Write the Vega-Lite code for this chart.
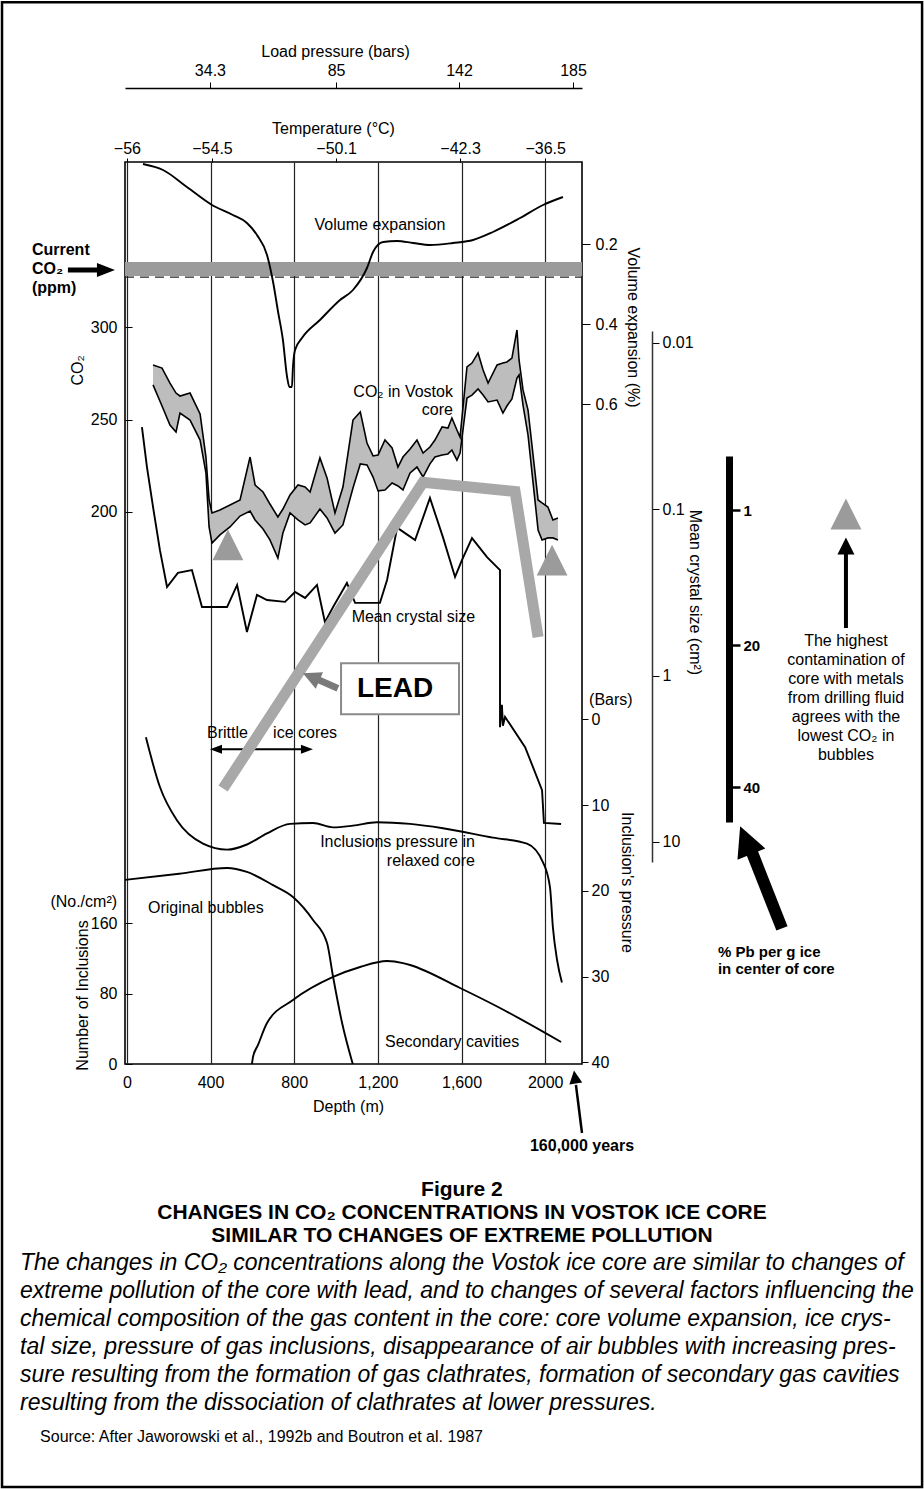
{
"$schema": "https://vega.github.io/schema/vega-lite/v6.json",
"width": 457,
"height": 902,
"autosize": {"type": "none"},
"padding": {"left": 125, "top": 162, "right": 342, "bottom": 425},
"background": "#ffffff",
"config": {
 "view": {"stroke": "#000000", "strokeWidth": 1.6},
 "font": "Liberation Sans",
 "axis": {"labelFont": "Liberation Sans", "titleFont": "Liberation Sans", "labelFontSize": 16, "titleFontSize": 16, "titleFontWeight": "normal", "labelColor": "#000000", "titleColor": "#000000", "tickColor": "#000000", "domainColor": "#000000", "grid": false, "labelFlush": false, "labelOverlap": false, "titleBaseline": "middle", "titleAlign": "center"},
 "text": {"font": "Liberation Sans", "fontSize": 16, "color": "#000000", "baseline": "middle"},
 "line": {"color": "#000000", "strokeWidth": 1.8},
 "rule": {"color": "#000000"}
},
"datasets": {
 "co2": [{"d":125,"hi":279.5,"lo":268.7},{"d":168,"hi":277.8,"lo":257.3},{"d":206,"hi":269.7,"lo":247.0},{"d":235,"hi":264.3,"lo":243.2},{"d":254,"hi":262.7,"lo":253.5},{"d":302,"hi":264.3,"lo":249.7},{"d":350,"hi":253.0,"lo":238.9},{"d":378,"hi":229.7,"lo":221.1},{"d":393,"hi":206.5,"lo":191.9},{"d":407,"hi":199.5,"lo":183.2},{"d":445,"hi":201.1,"lo":187.6},{"d":493,"hi":203.8,"lo":191.9},{"d":541,"hi":206.5,"lo":197.8},{"d":589,"hi":229.7,"lo":200.5},{"d":613,"hi":214.6,"lo":195.7},{"d":651,"hi":210.8,"lo":190.8},{"d":684,"hi":204.3,"lo":184.9},{"d":722,"hi":197.3,"lo":175.1},{"d":746,"hi":201.6,"lo":188.6},{"d":780,"hi":209.2,"lo":199.5},{"d":818,"hi":214.6,"lo":195.7},{"d":852,"hi":213.5,"lo":193.0},{"d":876,"hi":210.8,"lo":194.1},{"d":923,"hi":229.2,"lo":201.6},{"d":957,"hi":218.4,"lo":196.8},{"d":995,"hi":199.5,"lo":188.6},{"d":1033,"hi":213.5,"lo":193.0},{"d":1081,"hi":249.7,"lo":213.0},{"d":1116,"hi":254.1,"lo":226.0},{"d":1148,"hi":237.3,"lo":225.4},{"d":1177,"hi":230.3,"lo":218.9},{"d":1201,"hi":230.8,"lo":211.4},{"d":1234,"hi":238.9,"lo":211.9},{"d":1268,"hi":234.6,"lo":215.7},{"d":1296,"hi":224.3,"lo":214.1},{"d":1320,"hi":229.7,"lo":211.9},{"d":1354,"hi":234.1,"lo":221.1},{"d":1387,"hi":238.9,"lo":224.3},{"d":1416,"hi":231.9,"lo":218.9},{"d":1449,"hi":235.1,"lo":226.0},{"d":1473,"hi":238.9,"lo":229.7},{"d":1507,"hi":246.0,"lo":230.8},{"d":1535,"hi":245.4,"lo":231.4},{"d":1554,"hi":250.8,"lo":233.5},{"d":1578,"hi":244.3,"lo":228.1},{"d":1593,"hi":240.5,"lo":231.9},{"d":1626,"hi":278.4,"lo":261.6},{"d":1650,"hi":280.5,"lo":263.2},{"d":1679,"hi":286.0,"lo":266.5},{"d":1703,"hi":276.8,"lo":263.2},{"d":1727,"hi":269.7,"lo":259.5},{"d":1770,"hi":279.5,"lo":260.5},{"d":1798,"hi":280.5,"lo":253.5},{"d":1817,"hi":281.1,"lo":257.3},{"d":1841,"hi":283.2,"lo":261.1},{"d":1865,"hi":298.4,"lo":272.4},{"d":1875,"hi":282.2,"lo":274.1},{"d":1894,"hi":266.0,"lo":257.8},{"d":1918,"hi":255.1,"lo":241.6},{"d":1966,"hi":206.5,"lo":190.3},{"d":1985,"hi":204.9,"lo":184.9},{"d":2013,"hi":202.7,"lo":186.0},{"d":2037,"hi":195.7,"lo":186.0},{"d":2061,"hi":196.8,"lo":184.9}],
 "lows": [{"d":483,"co2":182.2},{"d":2033,"co2":174.0}],
 "volume": [{"d":77,"v":0.0},{"d":173,"v":0.015},{"d":287,"v":0.0575},{"d":407,"v":0.1025},{"d":507,"v":0.1275},{"d":574,"v":0.1475},{"d":622,"v":0.1775},{"d":670,"v":0.2275},{"d":699,"v":0.295},{"d":723,"v":0.37},{"d":746,"v":0.44},{"d":766,"v":0.5325},{"d":777,"v":0.5575},{"d":789,"v":0.5575},{"d":794,"v":0.5075},{"d":804,"v":0.465},{"d":837,"v":0.435},{"d":923,"v":0.39},{"d":1019,"v":0.34},{"d":1081,"v":0.315},{"d":1148,"v":0.26},{"d":1177,"v":0.22},{"d":1225,"v":0.195},{"d":1292,"v":0.1925},{"d":1368,"v":0.1975},{"d":1449,"v":0.2025},{"d":1559,"v":0.1975},{"d":1655,"v":0.19},{"d":1750,"v":0.17},{"d":1880,"v":0.135},{"d":1990,"v":0.1025},{"d":2085,"v":0.0825}],
 "crystal": [{"i":0,"d":72,"v":0.032},{"i":1,"d":96,"v":0.0557},{"i":2,"d":125,"v":0.0968},{"i":3,"d":158,"v":0.176},{"i":4,"d":192,"v":0.293},{"i":5,"d":244,"v":0.241},{"i":6,"d":311,"v":0.232},{"i":7,"d":359,"v":0.387},{"i":8,"d":479,"v":0.387},{"i":9,"d":527,"v":0.285},{"i":10,"d":574,"v":0.547},{"i":11,"d":622,"v":0.327},{"i":12,"d":670,"v":0.351},{"i":13,"d":756,"v":0.36},{"i":14,"d":804,"v":0.314},{"i":15,"d":852,"v":0.341},{"i":16,"d":909,"v":0.285},{"i":17,"d":947,"v":0.477},{"i":18,"d":986,"v":0.387},{"i":19,"d":1052,"v":0.277},{"i":20,"d":1091,"v":0.365},{"i":21,"d":1210,"v":0.365},{"i":22,"d":1244,"v":0.266},{"i":23,"d":1292,"v":0.129},{"i":24,"d":1330,"v":0.139},{"i":25,"d":1378,"v":0.153},{"i":26,"d":1449,"v":0.0855},{"i":27,"d":1511,"v":0.147},{"i":28,"d":1569,"v":0.255},{"i":29,"d":1602,"v":0.202},{"i":30,"d":1650,"v":0.149},{"i":31,"d":1722,"v":0.194},{"i":32,"d":1784,"v":0.232},{"i":33,"d":1784,"v":2.04},{"i":34,"d":1793,"v":1.5},{"i":35,"d":1798,"v":2.0},{"i":36,"d":1808,"v":1.77},{"i":37,"d":1904,"v":2.69},{"i":38,"d":1985,"v":4.88},{"i":39,"d":1994,"v":7.69},{"i":40,"d":2076,"v":7.8}],
 "pressure": [{"d":91,"p":2.1},{"d":158,"p":7.9},{"d":240,"p":11.8},{"d":364,"p":14.5},{"d":479,"p":15.2},{"d":574,"p":14.6},{"d":670,"p":13.3},{"d":780,"p":12.2},{"d":890,"p":12.1},{"d":986,"p":12.6},{"d":1081,"p":12.4},{"d":1196,"p":12.0},{"d":1354,"p":12.2},{"d":1511,"p":12.7},{"d":1750,"p":13.8},{"d":1913,"p":14.5},{"d":1990,"p":16.7},{"d":2023,"p":19.6},{"d":2037,"p":24.3},{"d":2057,"p":28.1},{"d":2080,"p":30.7}],
 "bubbles": [{"d":-9,"n":209},{"d":250,"n":216},{"d":479,"n":222.5},{"d":574,"n":218},{"d":699,"n":203},{"d":794,"n":189.6},{"d":890,"n":163.5},{"d":957,"n":137.3},{"d":986,"n":98.8},{"d":1029,"n":46.5},{"d":1080,"n":0}],
 "cavities": [{"d":598,"n":0},{"d":603,"n":7.9},{"d":627,"n":21.6},{"d":670,"n":46.5},{"d":794,"n":72.6},{"d":986,"n":98.8},{"d":1115,"n":110.1},{"d":1244,"n":116.9},{"d":1320,"n":114.6},{"d":1354,"n":112.4},{"d":1593,"n":86.3},{"d":1784,"n":63.6},{"d":2076,"n":25}],
 "lead": [{"d":460,"pb":40.2},{"d":1416,"pb":-2.9},{"d":1856,"pb":-1.6},{"d":1966,"pb":18.9}]
},
"resolve": {"scale": {"y": "independent"}, "axis": {"x": "independent", "y": "independent"}},
"layer": [
 {"layer": [
  {"data": {"values": [{"lo": 327.6, "hi": 335.1}]},
   "mark": {"type": "rect", "color": "#9b9b9b"},
   "encoding": {"x": {"datum": -9, "type": "quantitative"}, "x2": {"datum": 2176},
     "y": {"field": "hi", "type": "quantitative"}, "y2": {"field": "lo"}}},
  {"data": {"values": [{"v": 327}]},
   "mark": {"type": "rule", "strokeDash": [9, 6], "strokeWidth": 1.3, "color": "#222222"},
   "encoding": {"x": {"datum": -9, "type": "quantitative"}, "x2": {"datum": 2176},
     "y": {"field": "v", "type": "quantitative"}}},
  {"data": {"name": "co2"},
   "mark": {"type": "area", "color": "#bdbdbd", "opacity": 1},
   "encoding": {
     "x": {"field": "d", "type": "quantitative", "scale": {"domain": [-9, 2176], "nice": false, "zero": false},
       "axis": {"orient": "bottom", "values": [0, 400, 800, 1200, 1600, 2000], "grid": true, "gridColor": "#222222", "gridWidth": 1.2, "ticks": false, "domain": false, "labelPadding": 10, "labelExpr": "datum.value == 2000 ? '2000' : format(datum.value, ',')", "title": "Depth (m)", "titleX": 223, "titleY": 42}},
     "y": {"field": "hi", "type": "quantitative", "scale": {"domain": [-98.4, 389.2], "nice": false, "zero": false},
       "axis": {"orient": "left", "values": [200, 250, 300], "domain": false, "tickSize": -7, "labelPadding": 15, "title": "CO₂", "titleX": -48, "titleY": 208, "titleAngle": -90}},
     "y2": {"field": "lo"}}},
  {"data": {"name": "co2"}, "mark": {"type": "line", "strokeWidth": 1.6},
   "encoding": {"x": {"field": "d", "type": "quantitative"}, "y": {"field": "hi", "type": "quantitative"}}},
  {"data": {"name": "co2"}, "mark": {"type": "line", "strokeWidth": 1.6},
   "encoding": {"x": {"field": "d", "type": "quantitative"}, "y": {"field": "lo", "type": "quantitative"}}},
  {"data": {"name": "lows"}, "mark": {"type": "point", "shape": "M0,-1L1,1L-1,1Z", "filled": true, "size": 950, "color": "#9b9b9b", "opacity": 1, "strokeWidth": 0},
   "encoding": {"x": {"field": "d", "type": "quantitative"}, "y": {"field": "co2", "type": "quantitative"}}},
  {"data": {"values": [{}]}, "mark": {"type": "text", "align": "right", "lineHeight": 18},
   "encoding": {"x": {"datum": 1559, "type": "quantitative"}, "y": {"datum": 264.9, "type": "quantitative"}, "text": {"value": ["CO₂ in Vostok", "core"]}}},
  {"data": {"values": [{}]}, "mark": {"type": "text", "align": "left", "fontWeight": "bold", "lineHeight": 19},
   "encoding": {"x": {"datum": -454, "type": "quantitative"}, "y": {"datum": 341.6, "type": "quantitative"}, "text": {"value": ["Current", "CO₂", "(ppm)"]}}},
  {"data": {"values": [{}]}, "mark": {"type": "rule", "strokeWidth": 5},
   "encoding": {"x": {"datum": -282, "type": "quantitative"}, "x2": {"datum": -110}, "y": {"datum": 330.8, "type": "quantitative"}}},
  {"data": {"values": [{}]}, "mark": {"type": "point", "shape": "M1,0L-1,-0.78L-1,0.78Z", "filled": true, "size": 324, "color": "#000000", "opacity": 1, "strokeWidth": 0},
   "encoding": {"x": {"datum": -100, "type": "quantitative"}, "y": {"datum": 330.8, "type": "quantitative"}}}
 ]},
 {"layer": [
  {"data": {"name": "volume"}, "mark": {"type": "line", "interpolate": "monotone", "strokeWidth": 1.9},
   "encoding": {
     "x": {"field": "d", "type": "quantitative", "scale": {"domain": [-9, 2176], "nice": false, "zero": false},
       "axis": {"orient": "top", "values": [0, 407, 1000, 1593, 2000], "labelExpr": "datum.value < 200 ? '−56' : datum.value < 700 ? '−54.5' : datum.value < 1300 ? '−50.1' : datum.value < 1800 ? '−42.3' : '−36.5'", "domain": false, "tickSize": 4, "labelPadding": 2, "title": "Temperature (°C)", "titleX": 208, "titleY": -34}},
     "y": {"field": "v", "type": "quantitative", "scale": {"domain": [-0.005, 2.25], "reverse": true, "nice": false, "zero": false},
       "axis": {"orient": "right", "values": [0.2, 0.4, 0.6], "format": ".1f", "domain": false, "tickSize": 8, "labelPadding": 5, "title": "Volume expansion (%)", "titleX": 50, "titleY": 165, "titleAngle": 90}}}},
  {"data": {"values": [{}]}, "mark": {"type": "text", "align": "center"},
   "encoding": {"x": {"datum": 1210, "type": "quantitative"}, "y": {"datum": 0.1525, "type": "quantitative"}, "text": {"value": "Volume expansion"}}}
 ]},
 {"layer": [
  {"data": {"name": "crystal"}, "mark": {"type": "line", "strokeWidth": 1.9},
   "encoding": {
     "x": {"field": "d", "type": "quantitative", "scale": {"domain": [-9, 2176], "nice": false, "zero": false},
       "axis": {"orient": "top", "offset": 74, "values": [397, 1000, 1588, 2133], "labelExpr": "datum.value < 700 ? '34.3' : datum.value < 1300 ? '85' : datum.value < 1900 ? '142' : '185'", "domain": true, "domainWidth": 1.5, "tickSize": 6, "labelPadding": 4, "title": "Load pressure (bars)", "titleX": 210, "titleY": -36.4}},
     "y": {"field": "v", "type": "quantitative", "scale": {"type": "log", "domain": [0.00847, 13.2], "range": [169, 700], "nice": false},
       "axis": {"orient": "right", "offset": 70, "values": [0.01, 0.1, 1, 10], "format": "~g", "domain": true, "domainWidth": 1.5, "domainColor": "#333333", "tickSize": 7, "labelPadding": 3, "title": "Mean crystal size (cm²)", "titleX": 42, "titleY": 430, "titleAngle": 90}},
     "order": {"field": "i", "type": "quantitative"}}},
  {"data": {"values": [{}]}, "mark": {"type": "text", "align": "center"},
   "encoding": {"x": {"datum": 1370, "type": "quantitative"}, "y": {"datum": 0.4424, "type": "quantitative"}, "text": {"value": "Mean crystal size"}}}
 ]},
 {"layer": [
  {"data": {"name": "pressure"}, "mark": {"type": "line", "interpolate": "monotone", "strokeWidth": 1.9},
   "encoding": {
     "x": {"field": "d", "type": "quantitative", "scale": {"domain": [-9, 2176], "nice": false, "zero": false}, "axis": null},
     "y": {"field": "p", "type": "quantitative", "scale": {"domain": [-65, 40.2], "reverse": true, "nice": false, "zero": false},
       "axis": {"orient": "right", "values": [0, 10, 20, 30, 40], "domain": false, "tickSize": 6, "labelPadding": 3, "title": "Inclusion's pressure", "titleX": 44, "titleY": 720, "titleAngle": 90}}}},
  {"data": {"values": [{}]}, "mark": {"type": "text", "align": "left"},
   "encoding": {"x": {"datum": 2210, "type": "quantitative", "axis": null}, "y": {"datum": -2.2, "type": "quantitative"}, "text": {"value": "(Bars)"}}},
  {"data": {"values": [{}]}, "mark": {"type": "text", "align": "right", "lineHeight": 19},
   "encoding": {"x": {"datum": 1664, "type": "quantitative", "axis": null}, "y": {"datum": 14.34, "type": "quantitative"}, "text": {"value": ["Inclusions pressure in", "relaxed core"]}}},
  {"data": {"values": [{}]}, "mark": {"type": "text", "align": "left"},
   "encoding": {"x": {"datum": 383, "type": "quantitative", "axis": null}, "y": {"datum": 1.63, "type": "quantitative"}, "text": {"value": "Brittle"}}},
  {"data": {"values": [{}]}, "mark": {"type": "text", "align": "left"},
   "encoding": {"x": {"datum": 699, "type": "quantitative", "axis": null}, "y": {"datum": 1.63, "type": "quantitative"}, "text": {"value": "ice cores"}}},
  {"data": {"values": [{}]}, "mark": {"type": "rule", "strokeWidth": 2},
   "encoding": {"x": {"datum": 420, "type": "quantitative", "axis": null}, "x2": {"datum": 870}, "y": {"datum": 3.5, "type": "quantitative"}}},
  {"data": {"values": [{}]}, "mark": {"type": "point", "shape": "M-1,0L1,-0.75L1,0.75Z", "filled": true, "size": 144, "color": "#000000", "opacity": 1, "strokeWidth": 0},
   "encoding": {"x": {"datum": 426, "type": "quantitative", "axis": null}, "y": {"datum": 3.5, "type": "quantitative"}}},
  {"data": {"values": [{}]}, "mark": {"type": "point", "shape": "M1,0L-1,-0.75L-1,0.75Z", "filled": true, "size": 144, "color": "#000000", "opacity": 1, "strokeWidth": 0},
   "encoding": {"x": {"datum": 861, "type": "quantitative", "axis": null}, "y": {"datum": 3.5, "type": "quantitative"}}}
 ]},
 {"layer": [
  {"data": {"name": "bubbles"}, "mark": {"type": "line", "interpolate": "monotone", "strokeWidth": 1.9},
   "encoding": {
     "x": {"field": "d", "type": "quantitative", "scale": {"domain": [-9, 2176], "nice": false, "zero": false}, "axis": null},
     "y": {"field": "n", "type": "quantitative", "scale": {"domain": [0, 1024], "nice": false, "zero": false},
       "axis": {"orient": "left", "values": [0, 80, 160], "domain": false, "tickSize": -7, "labelPadding": 15, "title": "Number of Inclusions", "titleX": -43, "titleY": 833, "titleAngle": -90}}}},
  {"data": {"name": "cavities"}, "mark": {"type": "line", "interpolate": "monotone", "strokeWidth": 1.9},
   "encoding": {"x": {"field": "d", "type": "quantitative", "axis": null}, "y": {"field": "n", "type": "quantitative"}}},
  {"data": {"values": [{}]}, "mark": {"type": "text", "align": "right"},
   "encoding": {"x": {"datum": -47, "type": "quantitative", "axis": null}, "y": {"datum": 183.9, "type": "quantitative"}, "text": {"value": "(No./cm²)"}}},
  {"data": {"values": [{}]}, "mark": {"type": "text", "align": "left"},
   "encoding": {"x": {"datum": 101, "type": "quantitative", "axis": null}, "y": {"datum": 177.1, "type": "quantitative"}, "text": {"value": "Original bubbles"}}},
  {"data": {"values": [{}]}, "mark": {"type": "text", "align": "left"},
   "encoding": {"x": {"datum": 1234, "type": "quantitative", "axis": null}, "y": {"datum": 25.0, "type": "quantitative"}, "text": {"value": "Secondary cavities"}}},
  {"data": {"values": [{}]}, "mark": {"type": "text", "align": "center", "fontWeight": "bold"},
   "encoding": {"x": {"datum": 2176, "type": "quantitative", "axis": null}, "y": {"datum": -93.1, "type": "quantitative"}, "text": {"value": "160,000 years"}}},
  {"data": {"values": [{}]}, "mark": {"type": "rule", "strokeWidth": 2.5},
   "encoding": {"x": {"datum": 2176, "type": "quantitative", "axis": null}, "x2": {"datum": 2147}, "y": {"datum": -78.3, "type": "quantitative"}, "y2": {"datum": -23.8}}},
  {"data": {"values": [{}]}, "mark": {"type": "point", "shape": "M0,-1L1,1L-1,1Z", "filled": true, "size": 169, "angle": -8, "color": "#000000", "opacity": 1, "strokeWidth": 0},
   "encoding": {"x": {"datum": 2142, "type": "quantitative", "axis": null}, "y": {"datum": -14.8, "type": "quantitative"}}},
  {"data": {"values": [{}]}, "mark": {"type": "text", "align": "center", "fontWeight": "bold", "fontSize": 21, "lineHeight": 23},
   "encoding": {"x": {"datum": 1602, "type": "quantitative", "axis": null}, "y": {"datum": -143.0, "type": "quantitative"}, "text": {"value": ["Figure 2", "CHANGES IN CO₂ CONCENTRATIONS IN VOSTOK ICE CORE", "SIMILAR TO CHANGES OF EXTREME POLLUTION"]}}},
  {"data": {"values": [{}]}, "mark": {"type": "text", "align": "left", "fontStyle": "italic", "fontSize": 23, "lineHeight": 28},
   "encoding": {"x": {"datum": -511, "type": "quantitative", "axis": null}, "y": {"datum": -225.9, "type": "quantitative"}, "text": {"value": ["The changes in CO₂ concentrations along the Vostok ice core are similar to changes of", "extreme pollution of the core with lead, and to changes of several factors influencing the", "chemical composition of the gas content in the core: core volume expansion, ice crys-", "tal size, pressure of gas inclusions, disappearance of air bubbles with increasing pres-", "sure resulting from the formation of gas clathrates, formation of secondary gas cavities", "resulting from the dissociation of clathrates at lower pressures."]}}},
  {"data": {"values": [{}]}, "mark": {"type": "text", "align": "left", "fontSize": 16},
   "encoding": {"x": {"datum": -415, "type": "quantitative", "axis": null}, "y": {"datum": -423.4, "type": "quantitative"}, "text": {"value": "Source: After Jaworowski et al., 1992b and Boutron et al. 1987"}}},
  {"data": {"values": [{}]}, "mark": {"type": "rect", "fill": null, "fillOpacity": 0, "stroke": "#000000", "strokeWidth": 2.5},
   "encoding": {"x": {"datum": -597, "type": "quantitative", "axis": null}, "x2": {"datum": 3802}, "y": {"datum": 1205.4, "type": "quantitative"}, "y2": {"datum": -480.1}}}
 ]},
 {"layer": [
  {"data": {"name": "lead"}, "mark": {"type": "line", "strokeWidth": 11, "color": "#a8a8a8", "strokeCap": "butt", "strokeJoin": "miter"},
   "encoding": {
     "x": {"field": "d", "type": "quantitative", "scale": {"domain": [-9, 2176], "nice": false, "zero": false}, "axis": null},
     "y": {"field": "pb", "type": "quantitative", "scale": {"domain": [-6.6, 44.9], "range": [294, 660], "nice": false, "zero": false},
       "axis": {"orient": "right", "offset": 147, "values": [1, 20, 40], "domain": true, "domainWidth": 7, "tickWidth": 2.5, "tickSize": 11, "labelPadding": 3, "labelFontWeight": "bold", "labelFontSize": 15, "title": null}}}},
  {"data": {"values": [{}]}, "mark": {"type": "rect", "fill": "#ffffff", "stroke": "#8a8a8a", "strokeWidth": 2},
   "encoding": {"x": {"datum": 1024, "type": "quantitative", "axis": null}, "x2": {"datum": 1588}, "y": {"datum": 22.55, "type": "quantitative"}, "y2": {"datum": 29.73}}},
  {"data": {"values": [{}]}, "mark": {"type": "text", "align": "center", "fontWeight": "bold", "fontSize": 28},
   "encoding": {"x": {"datum": 1282, "type": "quantitative", "axis": null}, "y": {"datum": 26.2, "type": "quantitative"}, "text": {"value": "LEAD"}}},
  {"data": {"values": [{}]}, "mark": {"type": "rule", "strokeWidth": 7, "color": "#7a7a7a"},
   "encoding": {"x": {"datum": 1009, "type": "quantitative", "axis": null}, "x2": {"datum": 898}, "y": {"datum": 26.1, "type": "quantitative"}, "y2": {"datum": 24.66}}},
  {"data": {"values": [{}]}, "mark": {"type": "point", "shape": "M0,-1L1,1L-1,1Z", "filled": true, "size": 324, "angle": -66, "color": "#7a7a7a", "opacity": 1, "strokeWidth": 0},
   "encoding": {"x": {"datum": 881, "type": "quantitative", "axis": null}, "y": {"datum": 24.48, "type": "quantitative"}}},
  {"data": {"values": [{}]}, "mark": {"type": "text", "align": "center", "lineHeight": 19},
   "encoding": {"x": {"datum": 3438, "type": "quantitative", "axis": null}, "y": {"datum": 19.45, "type": "quantitative"}, "text": {"value": ["The highest", "contamination of", "core with metals", "from drilling fluid", "agrees with the", "lowest CO₂ in", "bubbles"]}}},
  {"data": {"values": [{}]}, "mark": {"type": "rule", "strokeWidth": 4},
   "encoding": {"x": {"datum": 3438, "type": "quantitative", "axis": null}, "y": {"datum": 17.6, "type": "quantitative"}, "y2": {"datum": 6.6}}},
  {"data": {"values": [{}]}, "mark": {"type": "point", "shape": "M0,-1L1,1L-1,1Z", "filled": true, "size": 289, "color": "#000000", "opacity": 1, "strokeWidth": 0},
   "encoding": {"x": {"datum": 3438, "type": "quantitative", "axis": null}, "y": {"datum": 6.07, "type": "quantitative"}}},
  {"data": {"values": [{}]}, "mark": {"type": "point", "shape": "M0,-1L1,1L-1,1Z", "filled": true, "size": 961, "color": "#9b9b9b", "opacity": 1, "strokeWidth": 0},
   "encoding": {"x": {"datum": 3438, "type": "quantitative", "axis": null}, "y": {"datum": 1.56, "type": "quantitative"}}},
  {"data": {"values": [{}]}, "mark": {"type": "text", "align": "left", "fontWeight": "bold", "fontSize": 15, "lineHeight": 17},
   "encoding": {"x": {"datum": 2826, "type": "quantitative", "axis": null}, "y": {"datum": 63.25, "type": "quantitative"}, "text": {"value": ["% Pb per g ice", "in center of core"]}}},
  {"data": {"values": [{}]}, "mark": {"type": "rule", "strokeWidth": 12, "strokeCap": "butt"},
   "encoding": {"x": {"datum": 3132, "type": "quantitative", "axis": null}, "x2": {"datum": 2989}, "y": {"datum": 59.87, "type": "quantitative"}, "y2": {"datum": 49.2}}},
  {"data": {"values": [{}]}, "mark": {"type": "point", "shape": "M0,-1L1,1L-1,1Z", "filled": true, "size": 900, "angle": -22, "color": "#000000", "opacity": 1, "strokeWidth": 0},
   "encoding": {"x": {"datum": 2959, "type": "quantitative", "axis": null}, "y": {"datum": 47.46, "type": "quantitative"}}}
 ]}
]
}
